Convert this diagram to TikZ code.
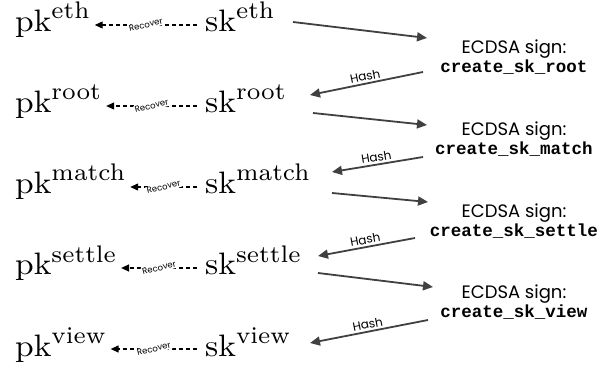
\documentclass[tikz,border=0pt]{standalone}
\usepackage{fontspec}
\newfontfamily\labelfont{Poppins}
\newfontfamily\codefont{Liberation Mono}
\newfontfamily\keyfont[Extension=.otf]{lmroman10-regular}
\newfontfamily\tagfont[Extension=.otf]{lmroman7-regular}
\usetikzlibrary{arrows.meta,calc}
\definecolor{arrowgray}{HTML}{404040}
% key names such as pk^eth: large roman letters with a raised tag
\newcommand\keytext[2]{\scalebox{1.08}[1]{\keyfont\fontsize{31}{33}\selectfont #1}\raisebox{13pt}{\tagfont\fontsize{24}{26}\selectfont #2}}
\newcommand\signtext[1]{{\labelfont\fontsize{18}{20}\selectfont ECDSA sign:}\\{\codefont\bfseries\fontsize{17.5}{20}\selectfont #1}}
\begin{document}
\begin{tikzpicture}[x=1pt,y=-1pt,
  keynode/.style={inner sep=0pt, anchor=base west},
  signnode/.style={inner sep=0pt, align=center},
  recover/.style={draw=black, line width=1.2pt, dash pattern=on 4.5pt off 2.5pt,
    -{Triangle[length=8pt,width=7pt]}},
  reclabel/.style={font=\labelfont\fontsize{8.5}{9}\selectfont, fill=white,
    inner sep=1pt, rotate=14},
  flow/.style={draw=arrowgray, line width=1.8pt,
    -{Triangle[length=10pt,width=9pt]}},
  hashlabel/.style={midway, sloped, above, inner sep=2pt,
    font=\labelfont\fontsize{12}{13}\selectfont}]
\useasboundingbox (0,0) rectangle (608,366);

% public keys (left) and secret keys (middle)
\node[keynode] (pk1) at (15,32)  {\keytext{pk}{eth}};
\node[keynode] (pk2) at (15,113) {\keytext{pk}{root}};
\node[keynode] (pk3) at (15,194) {\keytext{pk}{match}};
\node[keynode] (pk4) at (15,275) {\keytext{pk}{settle}};
\node[keynode] (pk5) at (15,356) {\keytext{pk}{view}};

\node[keynode] (sk1) at (205,32)  {\keytext{sk}{eth}};
\node[keynode] (sk2) at (205,113) {\keytext{sk}{root}};
\node[keynode] (sk3) at (205,194) {\keytext{sk}{match}};
\node[keynode] (sk4) at (205,275) {\keytext{sk}{settle}};
\node[keynode] (sk5) at (205,356) {\keytext{sk}{view}};

% signing steps (right)
\node[signnode] (e1) at (514,57)  {\signtext{create\_sk\_root}};
\node[signnode] (e2) at (514,139) {\signtext{create\_sk\_match}};
\node[signnode] (e3) at (514,221) {\signtext{create\_sk\_settle}};
\node[signnode] (e4) at (514,302) {\signtext{create\_sk\_view}};

% recovering each public key from its secret key
\foreach \i in {1,...,5}{
  \draw[recover] ($(sk\i.base west)+(-8,-7)$) --
    node[reclabel] {Recover} ($(pk\i.base east)+(5,-7)$);
}

% secret key -> signature
\draw[flow] ($(sk1.base west)+(88,-10)$)  -- ($(e1.center)+(-87,-19)$);
\draw[flow] ($(sk2.base west)+(108,0)$)   -- ($(e2.center)+(-87,-14)$);
\draw[flow] ($(sk3.base west)+(127,-1)$)  -- ($(e3.center)+(-86,-19)$);
\draw[flow] ($(sk4.base west)+(113,-2)$)  -- ($(e4.center)+(-81,-15)$);

% signature -> hash -> next secret key
\draw[flow] ($(e1.center)+(-91,15)$) -- node[hashlabel] {Hash} ($(sk2.base west)+(105,-18)$);
\draw[flow] ($(e2.center)+(-91,18)$) -- node[hashlabel] {Hash} ($(sk3.base west)+(127,-22)$);
\draw[flow] ($(e3.center)+(-99,17)$) -- node[hashlabel] {Hash} ($(sk4.base west)+(113,-19)$);
\draw[flow] ($(e4.center)+(-86,18)$) -- node[hashlabel] {Hash} ($(sk5.base west)+(105,-13)$);
\end{tikzpicture}
\end{document}
